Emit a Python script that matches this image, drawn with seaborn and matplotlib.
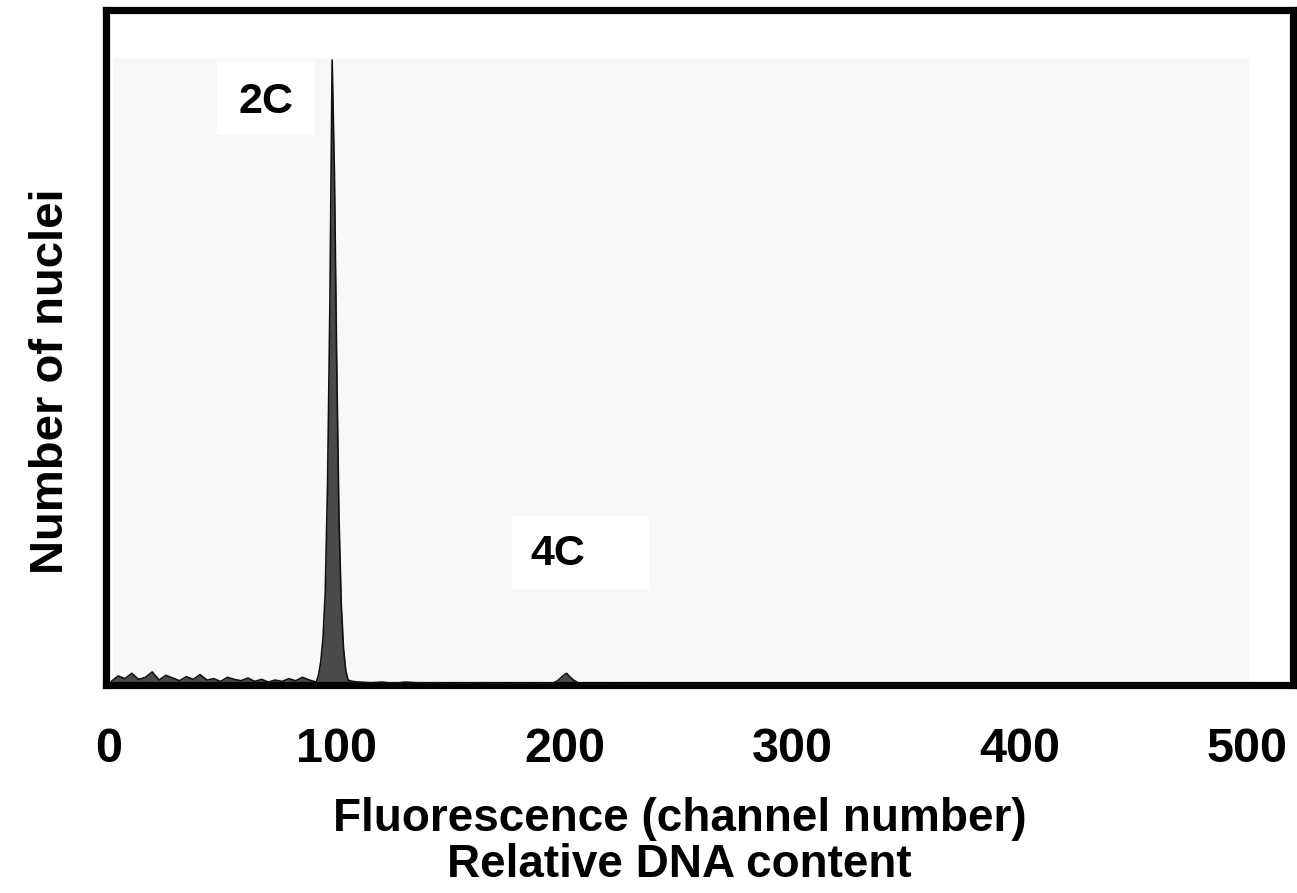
import numpy as np
import pandas as pd
import seaborn as sns
import matplotlib
matplotlib.use("Agg")
from matplotlib import pyplot as plt
from matplotlib.patches import Rectangle

# flow cytometry histogram (counts scaled to ~1000 full axis)
channel = [1, 4, 7, 10, 13, 16, 19, 22, 25, 28, 31, 34, 37, 40, 43, 46, 49, 52,
           55, 58, 61, 64, 67, 70, 73, 76, 79, 82, 85, 88, 90,
           91, 92, 93, 94, 95, 96, 97, 98, 99, 100, 101, 102, 103, 104, 105,
           107, 110, 115, 120, 125, 130, 135, 140, 145, 150, 155, 160, 165, 170,
           175, 180, 185, 190, 193,
           195, 196, 197, 198, 199, 200, 201, 202, 203, 204, 205, 206, 207, 208,
           210, 215, 220, 230, 240, 250, 260, 280, 300, 350, 400, 450, 500]
nuclei = [6, 14, 10, 18, 9, 12, 20, 8, 15, 11, 7, 13, 9, 16, 8, 10, 6, 12,
          9, 7, 11, 6, 9, 5, 8, 6, 10, 7, 12, 8, 6,
          5, 15, 35, 70, 140, 300, 560, 926, 760, 480, 250, 120, 55, 22, 8,
          6, 5, 4, 5, 3, 5, 4, 3, 4, 2, 3, 4, 2, 3,
          2, 3, 2, 3, 3,
          4, 5, 7, 10, 13, 16, 18, 14, 11, 8, 6, 4, 3, 2,
          2, 2, 1, 2, 1, 1, 1, 0, 0, 0, 0, 0, 0]

xticks = [0, 100, 200, 300, 400, 500]
peak_labels = ["2C", "4C"]
peak_label_x = [69, 197]
peak_label_y = [864, 195]

df = pd.DataFrame({"channel": channel, "nuclei": nuclei})

sns.set_style("white")
plt.rcParams["font.family"] = ["Liberation Sans", "DejaVu Sans"]
plt.rcParams["text.color"] = "black"
plt.rcParams["axes.labelcolor"] = "black"
plt.rcParams["xtick.color"] = "black"

fig = plt.figure(figsize=(12.97, 8.93), dpi=100)
ax = fig.add_axes([0.0821, 0.2324, 0.9152, 0.7564])

# pale scanned-image panel behind the histogram
ax.add_patch(Rectangle((0.0055, 0.0), 0.957, 0.929, transform=ax.transAxes,
                       facecolor="#f8f8f8", edgecolor="none", zorder=0))

ax.fill_between(df["channel"], 0, df["nuclei"], color="#4a4a4a", linewidth=0, zorder=2)
sns.lineplot(data=df, x="channel", y="nuclei", color="#111111", linewidth=1.2,
             ax=ax, zorder=3)

ax.set_xlim(-1.1, 520.2)
ax.set_ylim(0, 1000)
ax.set_xticks(xticks)
ax.set_xticklabels([str(t) for t in xticks], fontsize=35, fontweight="bold")
ax.set_yticks([])
ax.tick_params(axis="x", length=0, pad=30, labelcolor="black")

for sp in ax.spines.values():
    sp.set_visible(True)
    sp.set_linewidth(5.2)
    sp.set_color("black")

# white boxes behind the peak labels
ax.add_patch(Rectangle((47.5, 815), 43, 108, facecolor="white", edgecolor="none", zorder=4))
ax.add_patch(Rectangle((177, 143), 60, 108, facecolor="white", edgecolor="none", zorder=4))
for lab, lx, ly in zip(peak_labels, peak_label_x, peak_label_y):
    ax.text(lx, ly, lab, fontsize=31, fontweight="bold", ha="center", va="center",
            color="black", zorder=5)

ax.set_xlabel("Fluorescence (channel number)\nRelative DNA content",
              fontsize=33, fontweight="bold", linespacing=1.05, color="black")
ax.xaxis.set_label_coords(0.483, -0.165)
ax.set_ylabel("Number of nuclei", fontsize=34, fontweight="bold", color="black")
ax.yaxis.set_label_coords(-0.028, 0.45)

plt.savefig("out.png", dpi=100)
